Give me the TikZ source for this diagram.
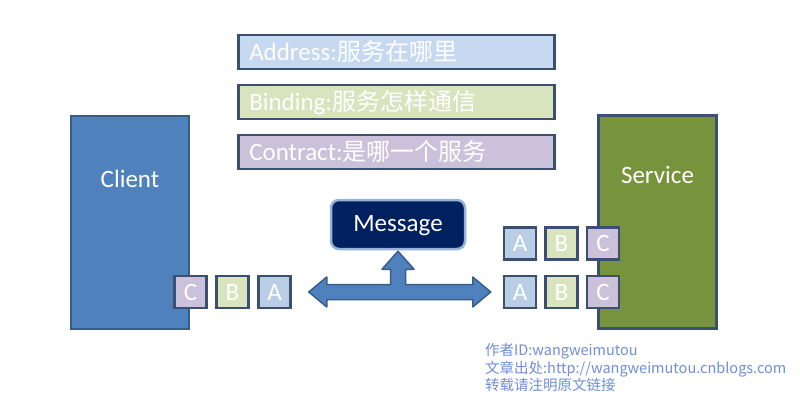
\documentclass[tikz,border=0pt]{standalone}
\usepackage{fontspec}
\setmainfont{Carlito}
\newfontfamily\cjk{Noto Sans CJK SC}
\usepackage{xcolor}
\definecolor{boxline}{RGB}{59,80,112}
\definecolor{clientedge}{RGB}{56,93,138}
\definecolor{clientblue}{RGB}{79,129,189}
\definecolor{servicegreen}{RGB}{119,147,60}
\definecolor{addressblue}{RGB}{198,217,241}
\definecolor{bindinggreen}{RGB}{215,228,189}
\definecolor{contractpurple}{RGB}{204,193,218}
\definecolor{letterblue}{RGB}{185,205,229}
\definecolor{msgnavy}{RGB}{0,32,96}
\definecolor{msgedge}{RGB}{149,179,215}
\definecolor{notecolor}{RGB}{111,143,216}
\usetikzlibrary{calc}
\usetikzlibrary{positioning}
\newcommand{\fontbig}{\fontsize{25}{29}\selectfont}
\newcommand{\fontnote}{\fontsize{14.5}{17.5}\selectfont}
\newcommand{\zh}[1]{{\cjk\fontsize{24}{28}\selectfont #1}}
\tikzset{
    common/.style={draw=boxline, line width=2.5pt, text=white, font=\fontbig},
    side/.style={common, minimum width=118pt, minimum height=213pt},
    sidename/.style={text=white, font=\fontbig, anchor=base, inner sep=0pt},
    bar/.style={common, anchor=west, minimum width=316pt, minimum height=34pt,
        inner xsep=11pt, inner ysep=0pt, text width=294pt, align=left,
        text height=20pt, text depth=3pt},
    letter/.style={common, minimum size=32pt, inner sep=0pt, text height=17pt, text depth=1pt},
    letterA/.style={letter, fill=letterblue},
    letterB/.style={letter, fill=bindinggreen},
    letterC/.style={letter, fill=contractpurple},
    msg/.style={common, draw=msgedge, fill=msgnavy, rounded corners=8pt,
        minimum width=134pt, minimum height=49pt, text height=17pt, text depth=3pt},
    blockarrow/.style={fill=clientblue, draw=clientedge, line width=1.5pt, line join=round},
    note/.style={text=notecolor, font=\cjk\fontnote, align=left, inner sep=0pt}
}
\begin{document}
\begin{tikzpicture}[x=1pt, y=-1pt]
    \useasboundingbox[fill=white] (0,0) rectangle (800,415);

    % client and service
    \node[side, fill=clientblue, draw=clientedge] (client) at (130,222.5) {};
    \node[side, fill=servicegreen] (service) at (657.5,222) {};
    \node[sidename] (clientname) at (130,187) {Client};
    \node[sidename] (servicename) at (657.5,183.5) {Service};

    % address, binding, contract
    \node[bar, fill=addressblue] (address) at (237,52) {Address:\zh{服务在哪里}};
    \node[bar, fill=bindinggreen, below=13.5pt of address] (binding) {Binding:\zh{服务怎样通信}};
    \node[bar, fill=contractpurple, below=13.5pt of binding] (contract) {Contract:\zh{是哪一个服务}};

    % letters on the client side
    \node[letterC] (lC) at (190.5,292) {C};
    \node[letterB, right=7.5pt of lC] (lB) {B};
    \node[letterA, right=7.5pt of lB] (lA) {A};

    % letters on the service side
    \node[letterA] (rA1) at (520,243.5) {A};
    \node[letterB, right=7pt of rA1] (rB1) {B};
    \node[letterC, right=7pt of rB1] (rC1) {C};
    \node[letterA] (rA2) at (520,292) {A};
    \node[letterB, right=7pt of rA2] (rB2) {B};
    \node[letterC, right=7pt of rB2] (rC2) {C};

    \node[msg] (msg) at (398,224.5) {Message};

    % arrow
    \coordinate (tipL) at ([xshift=17pt]lA.east);
    \coordinate (tipR) at ([xshift=-12pt]rA2.west);
    \coordinate (tipU) at ([yshift=-1pt]msg.south);
    \coordinate (stemL) at ($(tipU)+(-7.5,18)$);
    \coordinate (stemR) at ($(tipU)+(7.5,18)$);
    \draw[blockarrow] (tipL) -- ++(18,-15) -- ++(0,7.5)
        -- ($(stemL |- tipL)+(0,-7.5)$) -- (stemL) -- ++(-8.5,0) -- (tipU)
        -- ($(stemR)+(8.5,0)$) -- (stemR) -- ($(stemR |- tipR)+(0,-7.5)$)
        -- ($(tipR)+(-18,-7.5)$) -- ++(0,-7.5) -- (tipR) -- ++(-18,15) -- ++(0,-7.5)
        -- ($(tipL)+(18,7.5)$) -- ++(0,7.5) -- cycle;

    \node[note, anchor=north west] (note) at (485,343.5)
        {作者ID:wangweimutou\\文章出处:http://wangweimutou.cnblogs.com\\转载请注明原文链接};
\end{tikzpicture}
\end{document}
